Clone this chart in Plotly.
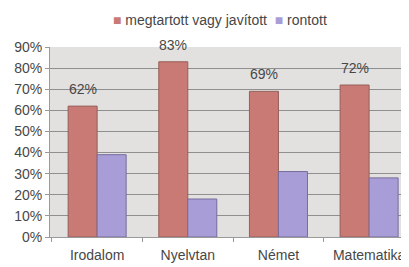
import plotly.graph_objects as go

categories = ["Irodalom", "Nyelvtan", "Német", "Matematika"]
kept_improved = [62, 83, 69, 72]
worsened = [39, 18, 31, 28]
series_names = ["megtartott vagy javított", "rontott"]
tick_vals = [0, 10, 20, 30, 40, 50, 60, 70, 80, 90]
tick_text = [f"{v}%" for v in tick_vals]

font = "Liberation Sans, Arial, sans-serif"
red = "#c97a74"
purple = "#a99dd8"
txt = "#474747"

# page body has an 8px default margin; size the figure to the visible area
W, H = 401, 259
L, T, B = 42, 39, 30

fig = go.Figure()
fig.add_trace(go.Bar(
    x=categories, y=kept_improved, name=series_names[0],
    marker=dict(color=red, line=dict(color="#955f5b", width=1)),
    showlegend=False,
))
fig.add_trace(go.Bar(
    x=categories, y=worsened, name=series_names[1],
    marker=dict(color=purple, line=dict(color="#766c9c", width=1)),
    showlegend=False,
))

# value labels above the first series
for c, v in zip(categories, kept_improved):
    fig.add_annotation(x=c, y=v, text=f"{v}%", showarrow=False,
                       xshift=-14.5, yanchor="bottom", yshift=7,
                       font=dict(size=14, color=txt, family=font))

# legend drawn as rich text
legend_text = (f"<span style='color:{red}'>■</span> {series_names[0]}  "
               f"<span style='color:{purple}'>■</span> {series_names[1]}")
fig.add_annotation(xref="paper", yref="paper", x=(219.5 - 8 - L) / (W - L), y=1.0,
                   yshift=27, xanchor="center", yanchor="middle",
                   text=legend_text, showarrow=False,
                   font=dict(size=14, color=txt, family=font))

fig.update_layout(
    width=W, height=H,
    margin=dict(l=L, r=0, t=T, b=B),
    paper_bgcolor="white", plot_bgcolor="#e3e1df",
    barmode="group", bargap=0.36, bargroupgap=0,
    font=dict(family=font, size=14, color=txt),
    showlegend=False,
)
fig.update_xaxes(range=[-0.52, 3.44], showgrid=False, automargin=False,
                 ticks="outside", tickson="boundaries", ticklen=4, tickcolor="#999999",
                 showline=True, linecolor="#999999", ticklabelstandoff=5,
                 tickfont=dict(size=14, color=txt, family=font))
fig.update_yaxes(range=[0, 90], tickvals=tick_vals, ticktext=tick_text, automargin=False,
                 showgrid=True, gridcolor="#8f8f8f", gridwidth=1,
                 zeroline=False, showline=True, linecolor="#999999",
                 ticks="outside", ticklen=4, tickcolor="#999999",
                 tickfont=dict(size=14, color=txt, family=font))

fig.write_html("out.html")
